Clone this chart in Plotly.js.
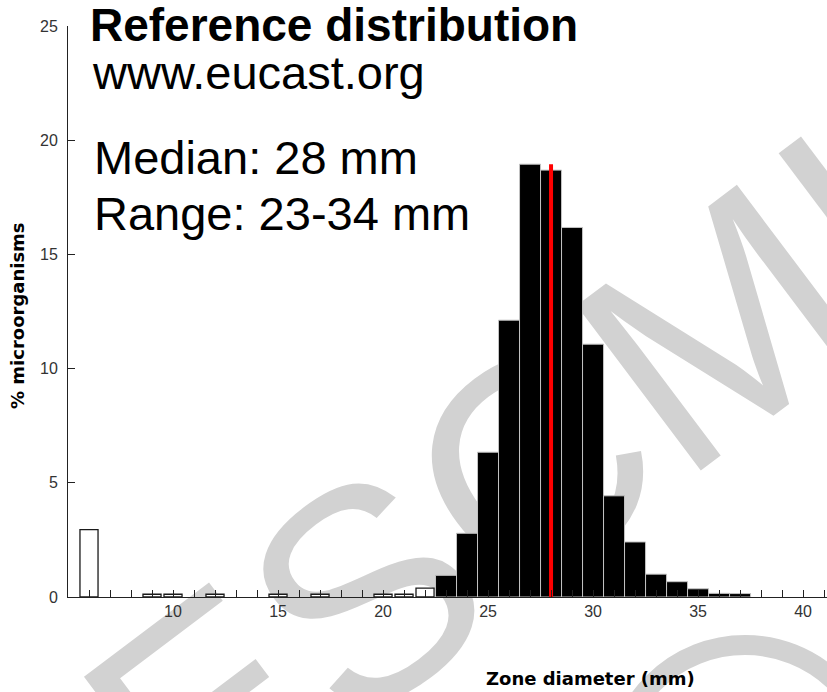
<!DOCTYPE html>
<html>
<head>
<meta charset="utf-8">
<script src="https://cdn.plot.ly/plotly-3.0.1.min.js"></script>
<style>
  html, body { margin: 0; padding: 0; background: #ffffff; }
  #chart { width: 827px; height: 692px; }
</style>
</head>
<body>
<div id="chart"></div>
<script>
// ---- data ----
// zones below the wild-type distribution (drawn as open bars)
const openZones  = [6, 9, 10, 12, 15, 17, 20, 21, 22];
const openValues = [2.95, 0.12, 0.12, 0.12, 0.12, 0.12, 0.12, 0.12, 0.39];
// wild-type zones (drawn as filled bars)
const wtZones  = [23, 24, 25, 26, 27, 28, 29, 30, 31, 32, 33, 34, 35, 36, 37];
const wtValues = [0.95, 2.79, 6.34, 12.12, 18.95, 18.69, 16.18, 11.07, 4.43, 2.41, 1.00, 0.67, 0.36, 0.16, 0.15];
const medianZone = 28;
const xTickVals = [10, 15, 20, 25, 30, 35, 40];
const yTickVals = [0, 5, 10, 15, 20, 25];
const titleText = "Reference distribution";
const subText = "www.eucast.org";
const medianText = "Median: 28 mm";
const rangeText = "Range: 23-34 mm";
const xTitle = "Zone diameter (mm)";
const yTitle = "% microorganisms";
const watermark = "ESCMID";

// ---- layout helpers (pixel -> paper) ----
const W = 827, H = 692;
const M = {l: 68, r: 0, t: 26, b: 95};
const PW = W - M.l - M.r, PH = H - M.t - M.b;
const px = x => (x - M.l) / PW;
const py = y => (H - M.b - y) / PH;

const AR = "Liberation Sans, Arial, sans-serif";
const DV = "DejaVu Sans, Verdana, sans-serif";

const maxVal = Math.max(...wtValues, ...openValues);

const traces = [
  {
    type: "bar", x: openZones, y: openValues, width: 0.86,
    marker: {color: "#ffffff", line: {color: "#1a1a1a", width: 1.3}},
    hoverinfo: "skip", showlegend: false
  },
  {
    type: "bar", x: wtZones, y: wtValues, width: 1.0,
    marker: {color: "#000000", line: {color: "#c4c4c4", width: 1}},
    hoverinfo: "skip", showlegend: false
  },
  {
    type: "scatter", mode: "lines", x: [medianZone, medianZone], y: [-0.35, maxVal],
    line: {color: "#ff0000", width: 4}, cliponaxis: false,
    hoverinfo: "skip", showlegend: false
  }
];

function textAnn(text, xpx, ypx, size, family, bold, anchor) {
  return {
    xref: "paper", yref: "paper", x: px(xpx), y: py(ypx),
    xanchor: anchor || "left", yanchor: "middle", showarrow: false,
    borderpad: 0, borderwidth: 0,
    text: bold ? "<b>" + text + "</b>" : text,
    font: {family: family, size: size, color: "#000000"}
  };
}

const annotations = [
  textAnn(titleText, 90, 25, 46, AR, true),
  textAnn(subText, 92, 72, 47, AR, false),
  textAnn(medianText, 94, 157, 47, AR, false),
  textAnn(rangeText, 94, 214, 47, AR, false),
  textAnn(xTitle, 590, 678, 18, DV, true, "center"),
  Object.assign(textAnn(yTitle, 17, 316, 18, DV, true, "center"), {textangle: -90})
];

// watermark, drawn underneath the bars
const wmCx = 575, wmCy = 400, wmAng = 37 * Math.PI / 180, wmHalf = 300;
const shapes = [
  {
    type: "line", xref: "paper", yref: "paper", layer: "below",
    x0: px(wmCx - wmHalf * Math.cos(wmAng)), y0: py(wmCy + wmHalf * Math.sin(wmAng)),
    x1: px(wmCx + wmHalf * Math.cos(wmAng)), y1: py(wmCy - wmHalf * Math.sin(wmAng)),
    line: {color: "rgba(0,0,0,0)", width: 1},
    label: {text: watermark, textposition: "middle", yanchor: "middle",
            font: {family: AR, size: 300, color: "#d2d2d2"}}
  },
  {
    type: "circle", xref: "paper", yref: "paper", layer: "below",
    x0: px(615), x1: px(875), y0: py(905), y1: py(645),
    line: {color: "#d2d2d2", width: 20}, fillcolor: "rgba(0,0,0,0)"
  }
];

const layout = {
  width: W, height: H,
  margin: M,
  paper_bgcolor: "#ffffff", plot_bgcolor: "rgba(0,0,0,0)",
  barmode: "overlay",
  showlegend: false,
  xaxis: {
    range: [5, 41.14], showgrid: false, zeroline: false,
    showline: true, linecolor: "#222", linewidth: 1,
    ticks: "inside", ticklen: 7, tickwidth: 1, tickcolor: "#222",
    tickmode: "array", tickvals: xTickVals,
    tickfont: {family: AR, size: 16, color: "#333"},
    minor: {tick0: 5, dtick: 1, ticks: "inside", ticklen: 7, tickwidth: 1, tickcolor: "#222", showgrid: false},
    fixedrange: true
  },
  yaxis: {
    range: [0, 25], showgrid: false, zeroline: false,
    showline: true, linecolor: "#222", linewidth: 1,
    ticks: "inside", ticklen: 7, tickwidth: 1, tickcolor: "#222",
    tickmode: "array", tickvals: yTickVals, ticklabelstandoff: 6,
    tickfont: {family: AR, size: 16, color: "#333"},
    fixedrange: true
  },
  annotations: annotations,
  shapes: shapes
};

Plotly.newPlot("chart", traces, layout, {displayModeBar: false, staticPlot: true});
</script>
</body>
</html>
